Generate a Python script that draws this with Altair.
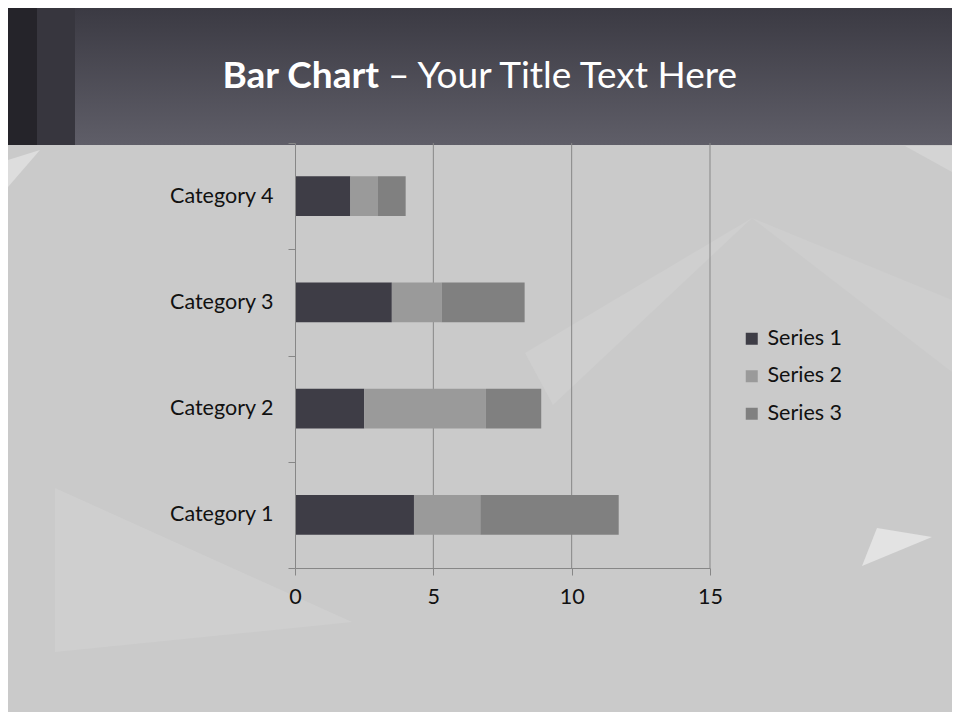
import altair as alt
import pandas as pd

categories = ["Category 1", "Category 2", "Category 3", "Category 4"]
series_names = ["Series 1", "Series 2", "Series 3"]
series1 = [4.3, 2.5, 3.5, 2.0]
series2 = [2.4, 4.4, 1.8, 1.0]
series3 = [5.0, 2.0, 3.0, 1.0]
series_colors = ["#3e3d46", "#9a9a9a", "#808080"]
x_ticks = [0, 5, 10, 15]
grid_values = [5, 10, 15]

rows = []
for s_idx, (name, vals) in enumerate(zip(series_names, [series1, series2, series3])):
    for c, v in zip(categories, vals):
        rows.append({"category": c, "series": name, "value": v, "order": s_idx})
df = pd.DataFrame(rows)

FONT = "Lato"
LABEL_SIZE = 21.5
W, H = 415, 425
OX, OY = 295, 143  # page position of the plot origin (used for decoration only)
AXIS_COLOR = "#878787"

# ---- decorative background (slide theme) ----
one = pd.DataFrame({"a": [0]})
header = alt.Chart(one).mark_rect(
    color=alt.Gradient(
        gradient="linear", x1=0, y1=0, x2=0, y2=1,
        stops=[alt.GradientStop(color="#3b3a43", offset=0),
               alt.GradientStop(color="#5f5e68", offset=1)],
    )
).encode(x=alt.value(-287), x2=alt.value(657), y=alt.value(-135), y2=alt.value(2))
strip1 = alt.Chart(one).mark_rect(color="#25242a").encode(
    x=alt.value(-287), x2=alt.value(-258), y=alt.value(-135), y2=alt.value(2))
strip2 = alt.Chart(one).mark_rect(color="#37363e").encode(
    x=alt.value(-258), x2=alt.value(-220), y=alt.value(-135), y2=alt.value(2))

# light facets of the background, as page-pixel polygons
facets = [
    ([(55, 488), (352, 622), (55, 652)], "#cfcfcf"),
    ([(877, 528), (932, 537), (862, 566)], "#e3e3e3"),
    ([(752, 218), (525, 353), (553, 405)], "#cfcfcf"),
    ([(752, 218), (952, 300), (952, 372)], "#cecece"),
    ([(8, 160), (40, 150), (8, 187)], "#dddddd"),
    ([(905, 146), (952, 146), (952, 172)], "#d4d4d4"),
]


def facet_path(pts):
    p = [f"{x - OX},{y - OY}" for x, y in pts]
    return "M" + " L".join(p) + " Z"


facet_layers = [
    alt.Chart(one).mark_point(shape=facet_path(pts), size=4, filled=True, fill=col,
                              opacity=1, strokeWidth=0)
    .encode(x=alt.value(0), y=alt.value(0))
    for pts, col in facets
]

title_bold = alt.Chart(pd.DataFrame({"t": ["Bar Chart"]})).mark_text(
    font=FONT, fontSize=37, fontWeight="bold", color="#ffffff", align="right", baseline="alphabetic"
).encode(text="t:N", x=alt.value(84), y=alt.value(-55))
title_reg = alt.Chart(pd.DataFrame({"t": ["\u2013 Your Title Text Here"]})).mark_text(
    font=FONT, fontSize=37, fontWeight="normal", color="#ffffff", align="left", baseline="alphabetic"
).encode(text="t:N", x=alt.value(93), y=alt.value(-55))

x_scale = alt.Scale(domain=[0, 15], nice=False)

grid = alt.Chart(pd.DataFrame({"g": grid_values})).mark_rule(
    color=AXIS_COLOR, strokeWidth=1
).encode(x=alt.X("g:Q", scale=x_scale), y=alt.value(0), y2=alt.value(H))

bars = alt.Chart(df).mark_bar(height={"band": 0.376}).encode(
    x=alt.X("value:Q", stack="zero", scale=x_scale,
            axis=alt.Axis(values=x_ticks, title=None, grid=False, zindex=1,
                          domainColor=AXIS_COLOR, tickColor=AXIS_COLOR, tickSize=7,
                          labelFont=FONT, labelFontSize=LABEL_SIZE, labelColor="#111111",
                          labelPadding=11, labelFlush=False, format="d")),
    y=alt.Y("category:N", sort=categories[::-1],
            scale=alt.Scale(paddingInner=0, paddingOuter=0),
            axis=alt.Axis(title=None, domainColor=AXIS_COLOR, tickColor=AXIS_COLOR, tickSize=7,
                          tickBand="extent", labelFont=FONT, labelFontSize=LABEL_SIZE, zindex=1,
                          labelColor="#111111", labelPadding=15, grid=False)),
    color=alt.Color("series:N", scale=alt.Scale(domain=series_names, range=series_colors),
                    legend=alt.Legend(title=None, orient="none", legendX=446, legendY=185,
                                      symbolType="square", symbolSize=144, symbolStrokeWidth=0,
                                      labelFont=FONT, labelFontSize=LABEL_SIZE, labelColor="#111111",
                                      rowPadding=14.5, labelOffset=5, zindex=1)),
    order=alt.Order("order:Q"),
)

chart = alt.layer(header, strip1, strip2, *facet_layers, title_bold, title_reg, grid, bars).properties(
    width=W, height=H,
    padding={"left": 287, "top": 135, "right": 242, "bottom": 144},
    autosize=alt.AutoSizeParams(type="none"),
).configure(background="#cacaca").configure_view(stroke=None)

chart.save("out.html", embed_options={"renderer": "svg", "actions": False})
